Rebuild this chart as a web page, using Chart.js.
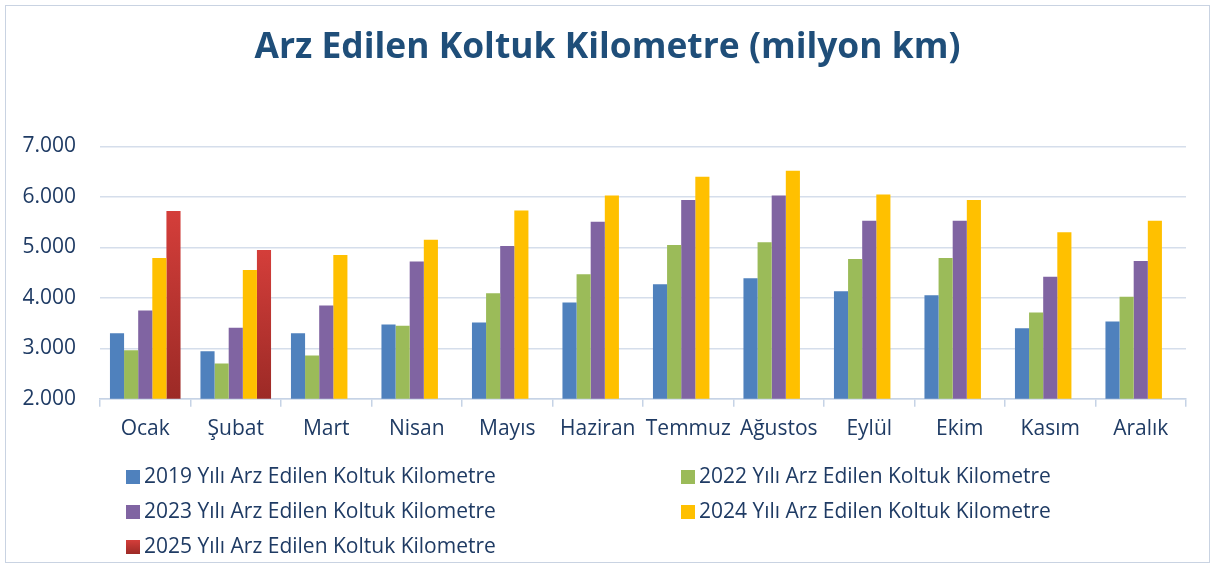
<!DOCTYPE html>
<html>
<head>
<meta charset="utf-8">
<script src="https://cdn.jsdelivr.net/npm/chart.js@4/dist/chart.umd.min.js"></script>
<style>
  html, body { margin: 0; padding: 0; background: #fff; }
  #wrap { width: 1215px; height: 568px; position: relative; }
</style>
</head>
<body>
<div id="wrap"><canvas id="chart" width="1215" height="568"></canvas></div>
<script>
const months = ['Ocak', 'Şubat', 'Mart', 'Nisan', 'Mayıs', 'Haziran', 'Temmuz', 'Ağustos', 'Eylül', 'Ekim', 'Kasım', 'Aralık'];
const seriesNames = [
  '2019 Yılı Arz Edilen Koltuk Kilometre',
  '2022 Yılı Arz Edilen Koltuk Kilometre',
  '2023 Yılı Arz Edilen Koltuk Kilometre',
  '2024 Yılı Arz Edilen Koltuk Kilometre',
  '2025 Yılı Arz Edilen Koltuk Kilometre'
];
const y2019 = [3300, 2940, 3300, 3470, 3510, 3910, 4270, 4390, 4130, 4050, 3400, 3530];
const y2022 = [2960, 2700, 2860, 3450, 4090, 4470, 5050, 5100, 4770, 4790, 3710, 4020];
const y2023 = [3750, 3410, 3850, 4720, 5030, 5510, 5940, 6030, 5530, 5530, 4420, 4730];
const y2024 = [4790, 4550, 4850, 5150, 5730, 6030, 6400, 6520, 6050, 5940, 5300, 5530];
const y2025 = [5720, 4950, null, null, null, null, null, null, null, null, null, null];
const yMin = 2000, yMax = 7000, yStep = 1000;

const colors = ['#4F81BD', '#9BBB59', '#8064A2', '#FFC000', '#C0392B'];
const textColor = '#1F3B64';
const fontFamily = '"Open Sans", Lato, sans-serif';

// red bars fade from bright at the top to darker at the base
function redFill(ctx) {
  const chart = ctx.chart;
  if (!chart.chartArea || ctx.raw == null) return colors[4];
  const ys = chart.scales.y;
  const g = chart.ctx.createLinearGradient(0, ys.getPixelForValue(ctx.raw), 0, ys.getPixelForValue(yMin));
  g.addColorStop(0, '#D43E3A');
  g.addColorStop(1, '#9C2A26');
  return g;
}

function fmt(v) {
  return String(v).replace(/\B(?=(\d{3})+(?!\d))/g, '.');
}

const frame = {
  id: 'frame',
  afterLayout(chart) {
    // centre the title on the whole canvas, not on the padded box
    if (chart.titleBlock) {
      chart.titleBlock.left = 0;
      chart.titleBlock.right = chart.width;
    }
  },
  beforeDraw(chart) {
    const c = chart.ctx;
    c.save();
    c.fillStyle = '#fff';
    c.fillRect(0, 0, chart.width, chart.height);
    c.strokeStyle = '#C9D3E2';
    c.lineWidth = 1;
    c.strokeRect(5.5, 5.5, chart.width - 11, chart.height - 11);
    c.restore();
  }
};

const twoColLegend = {
  id: 'twoColLegend',
  afterDraw(chart) {
    const c = chart.ctx;
    const colX = [126, 681];
    c.save();
    c.font = '21px ' + fontFamily;
    c.textBaseline = 'middle';
    chart.data.datasets.forEach((ds, i) => {
      const x = colX[i % 2];
      const y = 477 + Math.floor(i / 2) * 35;
      if (i === 4) {
        const g = c.createLinearGradient(0, y - 7, 0, y + 7);
        g.addColorStop(0, '#D43E3A');
        g.addColorStop(1, '#9C2A26');
        c.fillStyle = g;
      } else {
        c.fillStyle = colors[i];
      }
      c.fillRect(x, y - 7, 14, 14);
      c.fillStyle = textColor;
      c.fillText(ds.label, x + 18, y);
    });
    c.restore();
  }
};

const datasets = [y2019, y2022, y2023, y2024, y2025].map((arr, i) => ({
  label: seriesNames[i],
  data: arr,
  backgroundColor: i === 4 ? redFill : colors[i],
  borderWidth: 0,
  categoryPercentage: 0.78,
  barPercentage: 1.0
}));

new Chart(document.getElementById('chart'), {
  type: 'bar',
  data: { labels: months, datasets: datasets },
  plugins: [frame, twoColLegend],
  options: {
    responsive: false,
    animation: false,
    layout: { padding: { top: 5, left: 5, right: 29, bottom: 116 } },
    plugins: {
      legend: { display: false },
      tooltip: { enabled: false },
      title: {
        display: true,
        text: 'Arz Edilen Koltuk Kilometre (milyon km)',
        color: '#1F4E79',
        font: { family: fontFamily, size: 35.4, weight: 'bold' },
        padding: { top: 22, bottom: 77 }
      }
    },
    scales: {
      x: {
        offset: true,
        grid: {
          offset: true,
          drawOnChartArea: false,
          drawTicks: true,
          tickLength: 8,
          color: '#C6D3E6',
          lineWidth: 1.5
        },
        border: { display: true, color: '#C6D3E6', width: 1.5 },
        ticks: {
          color: textColor,
          padding: 10,
          maxRotation: 0,
          minRotation: 0,
          autoSkip: false,
          font: { family: fontFamily, size: 21 }
        }
      },
      y: {
        min: yMin,
        max: yMax,
        afterFit(scale) { scale.width = 95; },
        grid: { drawTicks: false, color: '#D5DEEB', lineWidth: 1.5 },
        border: { display: false },
        ticks: {
          stepSize: yStep,
          color: textColor,
          padding: 24,
          font: { family: fontFamily, size: 21 },
          callback: (v) => fmt(v)
        }
      }
    }
  }
});
</script>
</body>
</html>
